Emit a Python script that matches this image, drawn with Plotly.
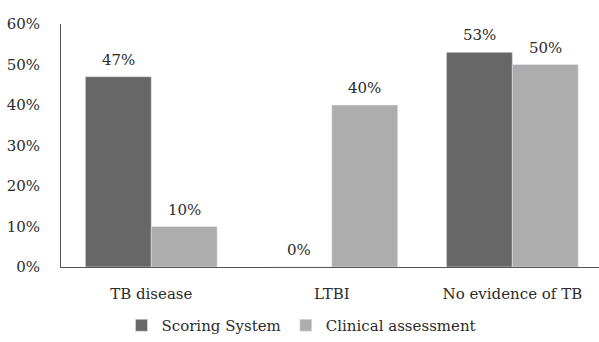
import plotly.graph_objects as go

categories = ["TB disease", "LTBI", "No evidence of TB"]
scoring_system = [47, 0, 53]
clinical_assessment = [10, 40, 50]
y_ticks = [0, 10, 20, 30, 40, 50, 60]

DARK = "#676767"
LIGHT = "#adadae"
TEXT = "#2b2b2b"
FONT = "DejaVu Serif"
BARGAP = 0.27

idx = list(range(len(categories)))
half = (1 - BARGAP) / 4  # offset of each bar centre from its category centre

fig = go.Figure()
fig.add_bar(x=idx, y=scoring_system, name="Scoring System", marker_color=DARK)
fig.add_bar(x=idx, y=clinical_assessment, name="Clinical assessment", marker_color=LIGHT)

# value labels above each bar
for vals, sign in ((scoring_system, -1), (clinical_assessment, 1)):
    for i, v in zip(idx, vals):
        fig.add_annotation(x=i + sign * half, y=v, text=f"{v}%", showarrow=False,
                           yanchor="bottom", yshift=6,
                           font=dict(family=FONT, size=15, color=TEXT))

fig.update_layout(
    width=599, height=342,
    margin=dict(l=61, r=0, t=24, b=74),
    barmode="group", bargap=BARGAP, bargroupgap=0,
    plot_bgcolor="white", paper_bgcolor="white",
    font=dict(family=FONT, size=15, color=TEXT),
    showlegend=True,
    legend=dict(orientation="h", x=0.447, xanchor="center", y=-0.242, yanchor="middle",
                font=dict(family=FONT, size=15, color=TEXT), itemwidth=30,
                traceorder="normal"),
    xaxis=dict(tickvals=idx, ticktext=categories, range=[-0.5, 2.48],
               showline=True, linecolor="#555555", linewidth=1,
               showgrid=False, zeroline=False, ticks="", ticklabelstandoff=13),
    yaxis=dict(range=[0, 60], tickvals=y_ticks, ticktext=[f"{t}%" for t in y_ticks],
               showline=True, linecolor="#555555", linewidth=1,
               showgrid=False, zeroline=False, ticks="", ticklabelstandoff=17),
)

fig.write_html("out.html")
